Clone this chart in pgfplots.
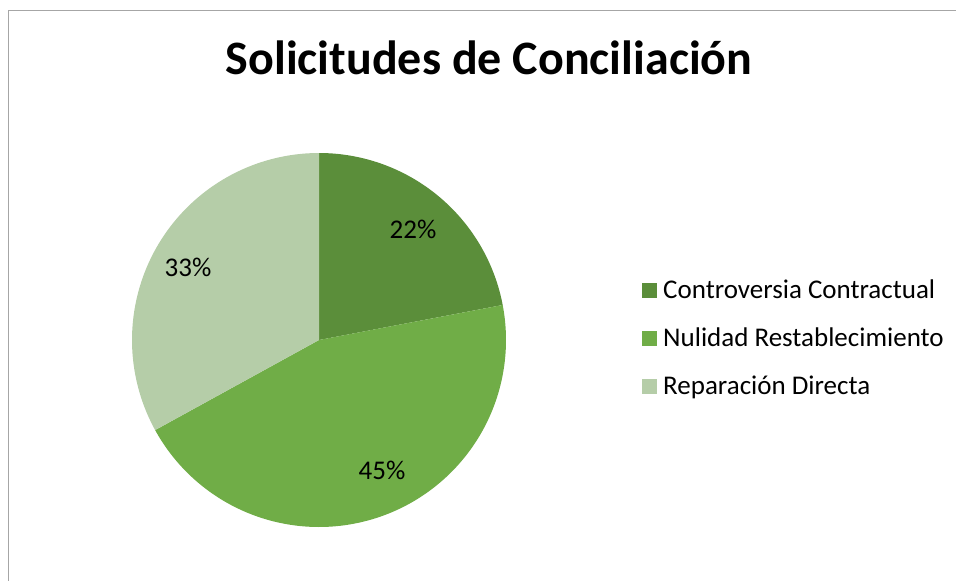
\documentclass[border=0pt]{standalone}
\usepackage{pgfplots}
\pgfplotsset{compat=1.18}
\usepackage{fontspec}
\setmainfont{Carlito}
\definecolor{cA}{HTML}{5B8E3A}
\definecolor{cB}{HTML}{70AD47}
\definecolor{cC}{HTML}{B5CDA8}
\definecolor{frame}{HTML}{A6A6A6}
% data (percent)
\def\va{22}\def\vb{45}\def\vc{33}
\pgfmathsetmacro{\aS}{90}
\pgfmathsetmacro{\aA}{90-3.6*\va}
\pgfmathsetmacro{\aB}{\aA-3.6*\vb}
\pgfmathsetmacro{\aC}{\aB-3.6*\vc}
\begin{document}
\begin{tikzpicture}
\useasboundingbox (0,0) rectangle (956bp,581bp);
\begin{axis}[
  at={(0,0)}, anchor=south west,
  scale only axis, width=956bp, height=581bp,
  xmin=0, xmax=956, ymin=0, ymax=581, y dir=reverse,
  hide axis, clip=false,
]
% chart frame
\addplot[frame, line width=1bp] coordinates {(8.5,581) (8.5,10.5) (956,10.5)};
% pie slices
\addplot[fill=cA, draw=none, domain=\aA:\aS, samples=120] ({319+187*cos(x)}, {340-187*sin(x)}) -- (axis cs:319,340) -- cycle;
\addplot[fill=cB, draw=none, domain=\aB:\aA, samples=200] ({319+187*cos(x)}, {340-187*sin(x)}) -- (axis cs:319,340) -- cycle;
\addplot[fill=cC, draw=none, domain=\aC:\aB, samples=150] ({319+187*cos(x)}, {340-187*sin(x)}) -- (axis cs:319,340) -- cycle;
% legend squares
\addplot[fill=cA, draw=none] coordinates {(642,283) (657,283) (657,298) (642,298)} -- cycle;
\addplot[fill=cB, draw=none] coordinates {(642,331) (657,331) (657,346) (642,346)} -- cycle;
\addplot[fill=cC, draw=none] coordinates {(642,379) (657,379) (657,394) (642,394)} -- cycle;
% texts
\node[anchor=base, inner sep=0pt, font=\fontsize{48bp}{56bp}\selectfont\bfseries] at (axis cs:489,75) {Solicitudes de Conciliación};
\begin{scope}[every node/.style={inner sep=0pt, font=\fontsize{27bp}{32bp}\selectfont}]
\node[anchor=base west] at (axis cs:663,298) {Controversia Contractual};
\node[anchor=base west] at (axis cs:663,346) {Nulidad Restablecimiento};
\node[anchor=base west] at (axis cs:663,394) {Reparación Directa};
\node[anchor=base] at (axis cs:413,238) {22\%};
\node[anchor=base] at (axis cs:382,479) {45\%};
\node[anchor=base] at (axis cs:188,276) {33\%};
\end{scope}
\end{axis}
\end{tikzpicture}
\end{document}
